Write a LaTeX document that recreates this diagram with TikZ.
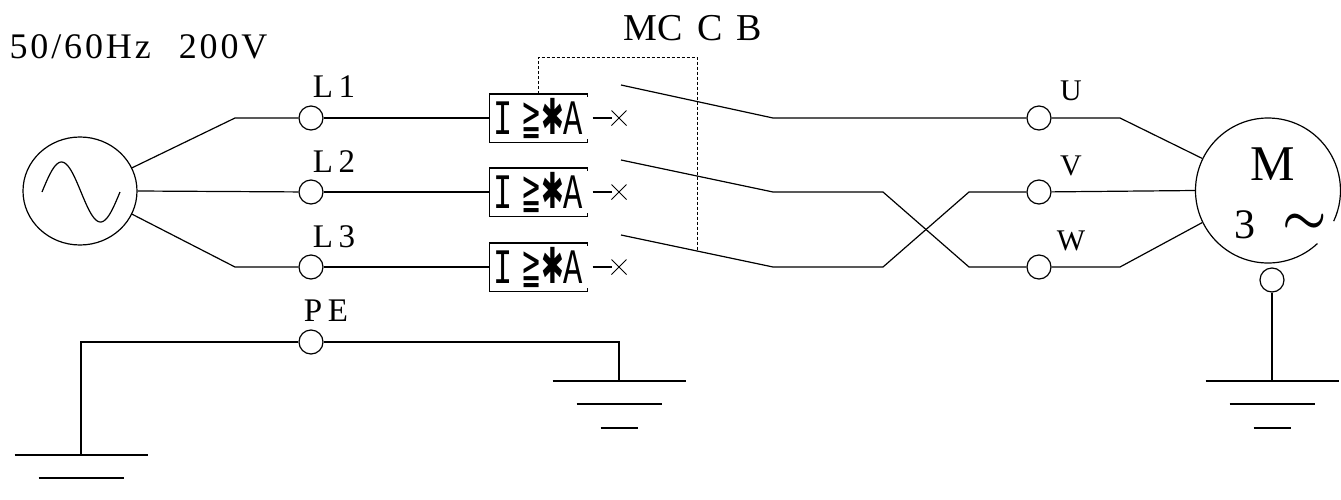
\documentclass[tikz,border=0pt]{standalone}
\usepackage{fontspec}
\usepackage{graphicx}
\setmainfont{Liberation Serif}
\newfontfamily\monofont{Liberation Mono}
\newfontfamily\symfont{DejaVu Sans}
\usetikzlibrary{shapes.geometric,shapes.misc}
\begin{document}
\begin{tikzpicture}[x=0.5pt,y=-0.5pt,line width=0.6pt,
  term/.style={circle,draw,minimum size=12pt,inner sep=0pt},
  lbl/.style={anchor=base,inner sep=0pt,font=\fontsize{16.5}{17}\selectfont},
  lblo/.style={anchor=base,inner sep=0pt,font=\fontsize{15}{16}\selectfont},
  brk/.style={minimum width=48.5pt,minimum height=23.5pt,inner sep=0pt},
  trip/.style={cross out,draw,minimum size=7pt,inner sep=0pt,line width=0.5pt},
  link/.style={line width=0.5pt,dash pattern=on 1.5pt off 1pt},
  earth/.pic={\draw (-66.5,0) -- (66.5,0) (-42.5,23) -- (42.5,23) (-18.5,47) -- (18.5,47);}]
\useasboundingbox (0,0) rectangle (1341,499);
\newcommand\brktext{\scalebox{1}[1.55]{{\fontsize{16}{16}\monofont I}\hspace{4pt}{\fontsize{16}{16}\symfont\scalebox{0.75}[1]{≧}\scalebox{0.85}[1]{✱}}{\fontsize{16}{16}\monofont A}}}

% texts
\node[anchor=base west,inner sep=0pt,font=\fontsize{18}{18}\selectfont\addfontfeature{LetterSpace=8}] (volt) at (9,58) {50/60Hz\hspace{14pt}200V};
\node[anchor=base west,inner sep=0pt,font=\fontsize{19}{20}\selectfont] (mccb) at (623,40) {MC\hspace{7.5pt}C\hspace{6.5pt}B};

% source
\node[ellipse,draw,minimum width=57pt,minimum height=54pt,inner sep=0pt] (src) at (80,191) {};
\draw plot[domain=0:360,samples=60,smooth] ({42+\x/360*78},{192-30*sin(\x)});

% terminals
\node[term] (L1) at (311,118) {};
\node[term] (L2) at (311,192) {};
\node[term] (L3) at (311,267) {};
\node[term] (PE) at (311,342) {};
\node[lbl] (tL1) at (334,97) {L\,1};
\node[lbl] (tL2) at (334,172) {L\,2};
\node[lbl] (tL3) at (334,247) {L\,3};
\node[lbl] (tPE) at (326,321) {P\,E};

\coordinate (a1) at (235,118);
\coordinate (a3) at (235,267);
\draw (src.24) -- (a1) -- (L1);
\draw (src.east) -- (L2);
\draw (src.-24) -- (a3) -- (L3);

% breakers
\foreach \i/\y in {1/118,2/192,3/267}{
  \node[brk] (b\i) at (538.5,\y) {\brktext};
  \draw (b\i.north east) -- (b\i.north west) -- (b\i.south west) -- (b\i.south east);
  \draw (b\i.north east) -- ++(0,3);
  \draw (b\i.south east) -- ++(0,-3);
  \node[trip] (x\i) at (619,\y) {};
  \draw ([xshift=2.5pt]b\i.east) -- (x\i.west);
}
\draw (L1) -- (b1.west);
\draw (L2) -- (b2.west);
\draw (L3) -- (b3.west);

% linkage
\coordinate (k1) at (538.5,57);
\coordinate (k2) at (697,57);
\coordinate (k3) at (697,251);
\draw[link] (b1.north) -- (k1) -- (k2) -- (k3);

% blades and outputs
\node[term] (U) at (1039,118) {};
\node[term] (V) at (1039,192) {};
\node[term] (W) at (1039,267) {};
\node[lblo] (tU) at (1071,100) {U};
\node[lblo] (tV) at (1071,175) {V};
\node[lblo] (tW) at (1071,250) {W};

\coordinate (s1) at (621,85);
\coordinate (s2) at (621,160);
\coordinate (s3) at (621,235);
\coordinate (e1) at (773,118);
\coordinate (e2) at (773,192);
\coordinate (e3) at (773,267);
\coordinate (c2) at (883,192);
\coordinate (c3) at (883,267);
\coordinate (d2) at (969,267);
\coordinate (d3) at (969,192);
\draw (s1) -- (e1) -- (U);
\draw (s2) -- (e2) -- (c2) -- (d2) -- (W);
\draw (s3) -- (e3) -- (c3) -- (d3) -- (V);

% motor
\node[circle,minimum size=72.5pt,inner sep=0pt] (mot) at (1268,190.5) {};
\draw ([shift={(47:72.5)}]mot.center) arc[start angle=47,end angle=385,radius=72.5];
\node[anchor=base,inner sep=0pt,font=\fontsize{25}{26}\selectfont] (tM) at (1273,180) {M};
\node[anchor=base,inner sep=0pt,font=\fontsize{21}{22}\selectfont] (t3) at (1245,238) {3};
\node[inner sep=0pt,font=\fontsize{29}{30}\selectfont\boldmath] (tsim) at (1305,224) {$\sim$};
\coordinate (m1) at (1120,118);
\coordinate (m3) at (1120,267);
\draw (U) -- (m1) -- (mot.154);
\draw (V) -- (mot.west);
\draw (W) -- (m3) -- (mot.206);

% motor earth
\node[term] (G) at (1272,280) {};
\coordinate (g2) at (1272,381);
\draw (G) -- (g2);
\pic at (g2) {earth};

% PE earths
\coordinate (p1) at (619,342);
\coordinate (g1) at (619,381);
\draw (PE) -- (p1) -- (g1);
\pic at (g1) {earth};
\coordinate (p0) at (81,342);
\coordinate (g0) at (81,455);
\draw (PE) -- (p0) -- (g0);
\draw (g0) ++(-66.5,0) -- ++(133,0);
\draw (g0) ++(-42.5,23) -- ++(85,0);
\end{tikzpicture}
\end{document}
